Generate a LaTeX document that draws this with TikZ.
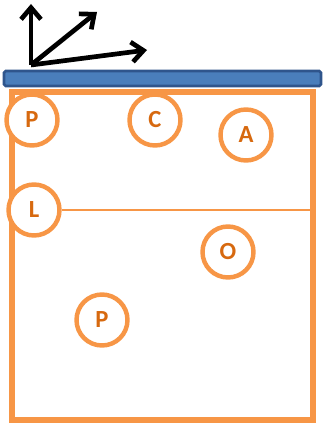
\documentclass[tikz,border=0pt]{standalone}
\usepackage{fontspec}
\setmainfont{Carlito}
\usepackage{tikz}
\usetikzlibrary{arrows.meta}

\definecolor{bandblue}{RGB}{74,126,187}
\definecolor{banddark}{RGB}{47,85,140}
\definecolor{boxorange}{RGB}{247,150,70}
\definecolor{letterorange}{RGB}{215,105,15}

\begin{document}
\begin{tikzpicture}[x=0.03cm,y=-0.03cm,
        site/.style={circle,draw=boxorange,line width=3.8pt,fill=white,minimum size=51*0.03cm,inner sep=0pt,
            font=\fontsize{21}{25}\selectfont\bfseries,text=letterorange},
        axis/.style={line width=4pt,-{Straight Barb[length=10pt,width=17pt,line width=4pt]}}]
    \useasboundingbox (0,0) rectangle (323,424);

    % Frame
    \draw[boxorange,line width=4.4pt] (12,92) rectangle (313,420);
    \node[site] (L) at (34,210) {L};
    \coordinate (edge) at (313,210);
    \draw[boxorange,line width=1.6pt] (L.east) -- (edge);

    % Band
    \draw[banddark,fill=bandblue,line width=2.4pt,rounded corners=1.5pt] (4,71) rectangle (321,86);

    % Sites
    \node[site] (P1) at (32,120) {P};
    \node[site] (C) at (155,120) {C};
    \node[site] (A) at (246,135) {A};
    \node[site] (O) at (228,252) {O};
    \node[site] (P2) at (102,320) {P};

    % Axes
    \coordinate (o) at (31,65);
    \coordinate (up) at (31,4);
    \coordinate (diag) at (97,12);
    \coordinate (flat) at (147,50);
    \draw[axis] (o) -- (up);
    \draw[axis] (o) -- (diag);
    \draw[axis] (o) -- (flat);
\end{tikzpicture}
\end{document}
